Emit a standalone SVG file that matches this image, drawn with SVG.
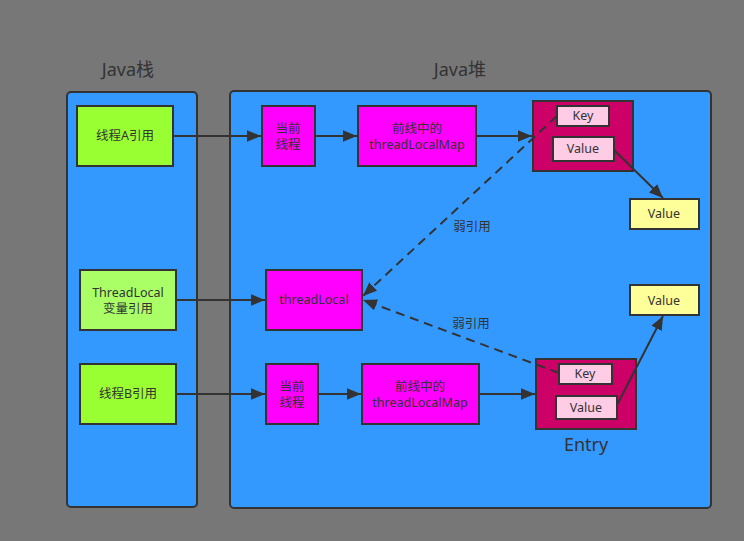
<svg xmlns="http://www.w3.org/2000/svg" width="744" height="541" viewBox="0 0 744 541">
<style>
text{font-family:"Noto Sans","Noto Sans CJK SC",sans-serif;fill:#333;text-anchor:middle}
.t{font-size:12.5px}
.h{font-size:18px}
.n{stroke:#333;stroke-width:2}
.panel{fill:#3399ff;stroke:#333;stroke-width:2}
.g1{fill:#99ff33}
.g2{fill:#aaff66}
.m{fill:#ff00ff}
.e{fill:#cc0066}
.k{fill:#ffcce6}
.y{fill:#ffff99}
.c{stroke:#333;stroke-width:2;fill:none}
.d{stroke:#333;stroke-width:2;fill:none;stroke-dasharray:9 6}
</style>
<defs>
<marker id="ar" viewBox="0 0 12 10" refX="12" refY="5" markerWidth="14" markerHeight="12" markerUnits="userSpaceOnUse" orient="auto">
<path d="M0,0 L12,5 L0,10 z" fill="#333"/>
</marker>
</defs>
<rect width="744" height="541" fill="#777777"/>
<g id="stack">
<rect class="panel" x="67" y="92" width="130" height="415" rx="4"/>
<text class="h" x="128" y="76">Java栈</text>
</g>
<g id="heap">
<rect class="panel" x="230" y="91" width="481" height="417" rx="4"/>
<text class="h" x="460" y="76">Java堆</text>
</g>
<g id="threadA-ref"><rect class="n g1" x="77" y="106" width="96" height="60"/><text class="t" x="125" y="140">线程A引用</text></g>
<g id="curThreadA"><rect class="n m" x="262" y="106" width="53" height="60"/><text class="t" x="288" y="133">当前</text><text class="t" x="288" y="149">线程</text></g>
<g id="mapA"><rect class="n m" x="358" y="106" width="118" height="60"/><text class="t" x="417" y="133">前线中的</text><text class="t" x="417" y="149">threadLocalMap</text></g>
<g id="entryA"><rect class="n e" x="533" y="101" width="100" height="70"/></g>
<g id="keyA"><rect class="n k" x="557" y="106" width="52" height="20"/><text class="t" x="583" y="120">Key</text></g>
<g id="valA"><rect class="n k" x="553" y="137" width="61" height="24"/><text class="t" x="583" y="153">Value</text></g>
<g id="valueA"><rect class="n y" x="630" y="199" width="69" height="30"/><text class="t" x="664" y="218">Value</text></g>
<g id="tl-ref"><rect class="n g2" x="80" y="270" width="96" height="60"/><text class="t" x="128" y="297">ThreadLocal</text><text class="t" x="128" y="313">变量引用</text></g>
<g id="threadLocal"><rect class="n m" x="266" y="270" width="96" height="60"/><text class="t" x="314" y="304">threadLocal</text></g>
<g id="threadB-ref"><rect class="n g1" x="80" y="364" width="96" height="60"/><text class="t" x="128" y="398">线程B引用</text></g>
<g id="curThreadB"><rect class="n m" x="266" y="364" width="52" height="60"/><text class="t" x="292" y="391">当前</text><text class="t" x="292" y="407">线程</text></g>
<g id="mapB"><rect class="n m" x="362" y="364" width="117" height="60"/><text class="t" x="420" y="391">前线中的</text><text class="t" x="420" y="407">threadLocalMap</text></g>
<g id="entryB"><rect class="n e" x="536" y="359" width="100" height="70"/><text class="h" x="586" y="451">Entry</text></g>
<g id="keyB"><rect class="n k" x="559" y="364" width="53" height="20"/><text class="t" x="585" y="378">Key</text></g>
<g id="valB"><rect class="n k" x="556" y="396" width="61" height="23"/><text class="t" x="586" y="412">Value</text></g>
<g id="valueB"><rect class="n y" x="630" y="285" width="69" height="30"/><text class="t" x="664" y="305">Value</text></g>
<g id="connectors">
<line class="c" x1="173" y1="136" x2="261" y2="136" marker-end="url(#ar)"/>
<line class="c" x1="315" y1="136" x2="357" y2="136" marker-end="url(#ar)"/>
<line class="c" x1="476" y1="136" x2="532" y2="136" marker-end="url(#ar)"/>
<line class="c" x1="614" y1="150" x2="663" y2="198" marker-end="url(#ar)"/>
<line class="c" x1="176" y1="300" x2="265" y2="300" marker-end="url(#ar)"/>
<line class="c" x1="176" y1="394" x2="265" y2="394" marker-end="url(#ar)"/>
<line class="c" x1="318" y1="394" x2="361" y2="394" marker-end="url(#ar)"/>
<line class="c" x1="479" y1="394" x2="535" y2="394" marker-end="url(#ar)"/>
<line class="c" x1="617" y1="405" x2="663" y2="316" marker-end="url(#ar)"/>
<line class="d" x1="557" y1="116" x2="363" y2="296" marker-end="url(#ar)"/>
<line class="d" x1="559" y1="373" x2="363" y2="300" marker-end="url(#ar)"/>
<text class="t" x="472" y="231">弱引用</text>
<text class="t" x="471" y="328">弱引用</text>
</g>
</svg>
